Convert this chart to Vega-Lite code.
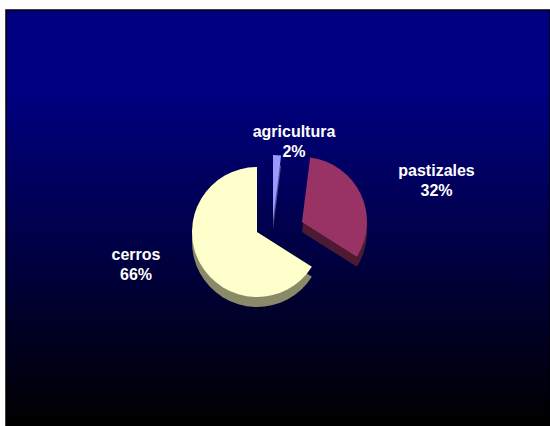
{
  "$schema": "https://vega.github.io/schema/vega-lite/v6.json",
  "width": 544,
  "height": 416,
  "autosize": {"type": "none"},
  "padding": {"left": 6, "top": 10, "right": 0, "bottom": 0},
  "background": "#ffffff",
  "config": {
    "view": {"stroke": null},
    "text": {"font": "Liberation Sans", "fontSize": 16, "fontWeight": "bold", "color": "#ffffff", "lineBreak": "\n", "lineHeight": 20, "align": "center", "baseline": "middle"}
  },
  "data": {
    "values": [
      {"category": "agricultura", "value": 2, "order": 1, "label": "agricultura\n2%"},
      {"category": "pastizales", "value": 32, "order": 2, "label": "pastizales\n32%"},
      {"category": "cerros", "value": 66, "order": 3, "label": "cerros\n66%"}
    ]
  },
  "transform": [
    {"stack": "value", "groupby": [], "sort": [{"field": "order", "order": "ascending"}], "as": ["v0", "v1"]}
  ],
  "layer": [
    {
      "transform": [{"filter": "datum.category == 'cerros'"}],
      "mark": {
        "type": "rect",
        "fill": {
          "gradient": "linear",
          "x1": 0, "y1": 0, "x2": 0, "y2": 1,
          "stops": [
            {"offset": 0, "color": "#000080"},
            {"offset": 0.2, "color": "#000080"},
            {"offset": 1, "color": "#000000"}
          ]
        },
        "stroke": "#000000",
        "strokeWidth": 1.5
      },
      "encoding": {}
    },
    {
      "transform": [{"filter": "datum.category == 'agricultura'"}],
      "mark": {"type": "arc", "outerRadius": 65, "color": "#4c4c80", "xOffset": -5, "yOffset": 12},
      "encoding": {"theta": {"field": "v0", "type": "quantitative", "scale": {"domain": [0, 100], "range": [0, 6.283185307]}}, "theta2": {"field": "v1"}}
    },
    {
      "transform": [{"filter": "datum.category == 'pastizales'"}],
      "mark": {"type": "arc", "outerRadius": 65, "color": "#4d1a33", "xOffset": 24, "yOffset": 14},
      "encoding": {"theta": {"field": "v0", "type": "quantitative", "scale": {"domain": [0, 100], "range": [0, 6.283185307]}}, "theta2": {"field": "v1"}}
    },
    {
      "transform": [{"filter": "datum.category == 'cerros'"}],
      "mark": {"type": "arc", "outerRadius": 65, "color": "#8a8a68", "xOffset": -21, "yOffset": 24},
      "encoding": {"theta": {"field": "v0", "type": "quantitative", "scale": {"domain": [0, 100], "range": [0, 6.283185307]}}, "theta2": {"field": "v1"}}
    },
    {
      "transform": [{"filter": "datum.category == 'agricultura'"}],
      "mark": {"type": "arc", "outerRadius": 65, "color": "#9999ff", "xOffset": -5, "yOffset": 2},
      "encoding": {"theta": {"field": "v0", "type": "quantitative", "scale": {"domain": [0, 100], "range": [0, 6.283185307]}}, "theta2": {"field": "v1"}}
    },
    {
      "transform": [{"filter": "datum.category == 'pastizales'"}],
      "mark": {"type": "arc", "outerRadius": 65, "color": "#993366", "xOffset": 24, "yOffset": 4},
      "encoding": {"theta": {"field": "v0", "type": "quantitative", "scale": {"domain": [0, 100], "range": [0, 6.283185307]}}, "theta2": {"field": "v1"}}
    },
    {
      "transform": [{"filter": "datum.category == 'cerros'"}],
      "mark": {"type": "arc", "outerRadius": 65, "color": "#ffffcc", "xOffset": -21, "yOffset": 14},
      "encoding": {"theta": {"field": "v0", "type": "quantitative", "scale": {"domain": [0, 100], "range": [0, 6.283185307]}}, "theta2": {"field": "v1"}}
    },
    {
      "transform": [{"filter": "datum.category == 'agricultura'"}],
      "mark": {"type": "text", "radius": 85, "xOffset": 16, "yOffset": -1},
      "encoding": {"theta": {"field": "v0", "type": "quantitative", "scale": {"domain": [0, 100], "range": [0, 6.283185307]}}, "text": {"field": "label"}}
    },
    {
      "transform": [{"filter": "datum.category == 'pastizales'"}],
      "mark": {"type": "text", "radius": 60, "xOffset": 151, "yOffset": 13},
      "encoding": {"theta": {"field": "v0", "type": "quantitative", "scale": {"domain": [0, 100], "range": [0, 6.283185307]}}, "text": {"field": "label"}}
    },
    {
      "transform": [{"filter": "datum.category == 'cerros'"}],
      "mark": {"type": "text", "radius": 40, "xOffset": -142, "yOffset": 77},
      "encoding": {"theta": {"field": "v1", "type": "quantitative", "scale": {"domain": [0, 100], "range": [0, 6.283185307]}}, "text": {"field": "label"}}
    }
  ]
}
